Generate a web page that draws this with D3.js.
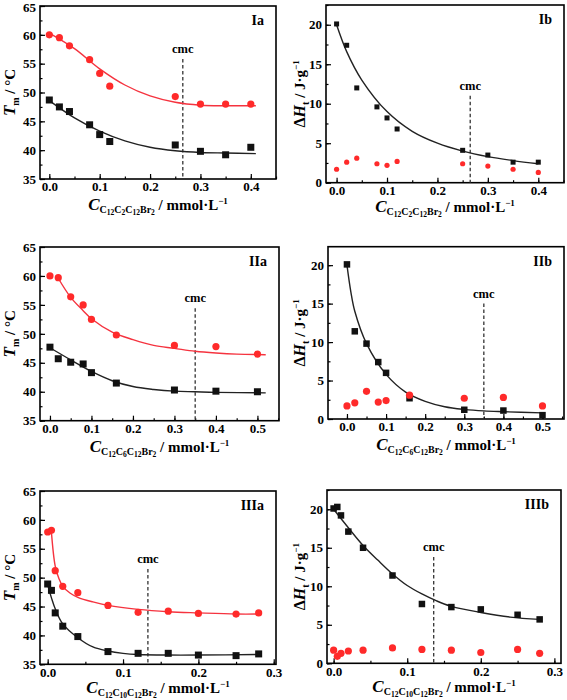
<!DOCTYPE html>
<html><head><meta charset="utf-8">
<script src="https://cdn.jsdelivr.net/npm/d3@7"></script>
<style>body{margin:0;background:#fff}svg{display:block}text{font-family:"Liberation Serif","Times New Roman",serif;font-weight:bold}</style>
</head><body><svg id="c" width="567" height="700"></svg>
<script>
// ---- data ----
const Ia_x = [0,0.02,0.04,0.08,0.1,0.12,0.25,0.3,0.35,0.4];
const Ia_red = [60,59.5,58.1,55.7,53.3,51.1,49.3,48,48,48];
const Ia_black = [48.7,47.5,46.7,44.4,42.7,41.5,40.9,39.8,39.2,40.5];
const Ia_fitX = [0,0.05,0.1,0.15,0.2,0.25,0.3,0.35,0.41];
const Ia_redFit = [60.3,57.6,54.1,51.3,49.4,48.3,47.8,47.7,47.7];
const Ia_blackFit = [48.6,45.6,43.3,41.6,40.5,39.9,39.6,39.5,39.4];
const Ia_cmc = 0.265;

const Ib_x = [0,0.02,0.04,0.08,0.1,0.12,0.25,0.3,0.35,0.4];
const Ib_black = [20.1,17.4,12.0,9.6,8.2,6.8,4.1,3.5,2.6,2.6];
const Ib_red = [1.7,2.6,3.1,2.4,2.2,2.7,2.4,2.1,1.7,1.3];
const Ib_fitX = [0,0.02,0.05,0.1,0.15,0.2,0.25,0.3,0.35,0.4];
const Ib_blackFit = [20.0,16.6,13.0,9.0,6.5,5.0,4.0,3.3,2.8,2.4];
const Ib_cmc = 0.265;

const IIa_x = [0,0.02,0.05,0.08,0.1,0.16,0.3,0.4,0.5];
const IIa_red = [60,59.7,56.4,55.0,52.5,49.8,48.0,47.8,46.5];
const IIa_black = [47.7,45.7,45.1,44.8,43.3,41.5,40.3,40.1,40.0];
const IIa_redFitX = [0.02,0.05,0.08,0.1,0.15,0.2,0.25,0.3,0.35,0.4,0.45,0.52];
const IIa_redFit = [59.6,56.3,54.0,52.6,50.3,49.0,48.0,47.5,47.0,46.7,46.5,46.4];
const IIa_blackFitX = [0,0.05,0.1,0.15,0.2,0.25,0.3,0.35,0.4,0.52];
const IIa_blackFit = [47.6,45.5,43.5,41.9,40.9,40.4,40.1,40.0,39.9,39.8];
const IIa_cmc = 0.35;

const IIb_x = [0,0.02,0.05,0.08,0.1,0.16,0.3,0.4,0.5];
const IIb_black = [20.1,11.4,9.8,7.4,6.0,2.7,1.2,1.1,0.5];
const IIb_red = [1.7,2.1,3.6,2.2,2.4,3.1,2.7,2.8,1.7];
const IIb_fitX = [0,0.01,0.02,0.05,0.1,0.15,0.2,0.25,0.3,0.35,0.4,0.5];
const IIb_blackFit = [20.0,16.5,14.0,9.8,5.8,3.5,2.3,1.6,1.25,1.05,0.95,0.8];
const IIb_cmc = 0.35;

const IIIa_x = [0,0.005,0.01,0.02,0.04,0.08,0.12,0.16,0.2,0.25,0.28];
const IIIa_red = [57.9,58.2,51.2,48.5,47.4,45.2,44.0,44.2,43.8,43.7,43.9];
const IIIa_black = [48.9,47.8,43.9,41.6,39.8,37.2,36.9,36.9,36.6,36.5,36.8];
const IIIa_redFitX = [0.005,0.01,0.015,0.02,0.03,0.04,0.06,0.08,0.12,0.16,0.2,0.25,0.28];
const IIIa_redFit = [57.8,52.0,49.8,48.5,47.3,46.6,45.8,45.2,44.5,44.1,43.9,43.7,43.7];
const IIIa_blackFitX = [0,0.005,0.01,0.02,0.04,0.06,0.08,0.1,0.12,0.16,0.2,0.28];
const IIIa_blackFit = [48.8,46.5,44.6,42.0,39.6,38.0,37.3,36.9,36.7,36.6,36.6,36.7];
const IIIa_cmc = 0.133;

const IIIb_x = [0,0.005,0.01,0.02,0.04,0.08,0.12,0.16,0.2,0.25,0.28];
const IIIb_black = [20.1,20.3,19.2,17.1,15.0,11.4,7.7,7.3,7.0,6.3,5.7];
const IIIb_red = [1.7,0.9,1.3,1.6,1.7,2.0,1.8,1.7,1.4,1.8,1.3];
const IIIb_fitX = [0,0.02,0.04,0.06,0.08,0.1,0.12,0.14,0.16,0.2,0.24,0.28];
const IIIb_blackFit = [20.0,17.6,15.3,13.4,11.6,10.1,9.0,8.1,7.4,6.6,6.0,5.7];
const IIIb_cmc = 0.136;

const tmTicks = [35,40,45,50,55,60,65];
const dhTicks = [0,5,10,15,20];
const xTicks04 = [0,0.1,0.2,0.3,0.4];
const xTicks05 = [0,0.1,0.2,0.3,0.4,0.5];
const xTicks03 = [0,0.1,0.2,0.3];

// ---- layout ----
const RED = "#ff2a2a", REDLINE = "#f5333f", BLK = "#111";
const panels = [
 {name:"Ia", L:40,R:276,T:6,B:179, xd:[-0.0185,0.45], yd:[35,65], yt:tmTicks, ymin:2.5, xt:xTicks04, xmin:0.05,
  kind:"T", sub:["12","2","12"], x:Ia_x, red:Ia_red, black:Ia_black, redFit:[Ia_fitX,Ia_redFit], blackFit:[Ia_fitX,Ia_blackFit],
  cmc:Ia_cmc, cmcTop:55.8, r:3.6, s:7, xlabY:210, ytX:15},
 {name:"Ib", L:326,R:564,T:5,B:182.7, xd:[-0.021,0.451], yd:[0,22.5], yt:dhTicks, ymin:2.5, xt:xTicks04, xmin:0.05,
  kind:"H", sub:["12","2","12"], x:Ib_x, red:Ib_red, black:Ib_black, redFit:null, blackFit:[Ib_fitX,Ib_blackFit],
  cmc:Ib_cmc, cmcTop:11.0, r:2.6, s:5, xlabY:212, ytX:305},
 {name:"IIa", L:40,R:279,T:247,B:420.7, xd:[-0.024,0.552], yd:[35,65], yt:tmTicks, ymin:2.5, xt:xTicks05, xmin:0.05,
  kind:"T", sub:["12","6","12"], x:IIa_x, red:IIa_red, black:IIa_black, redFit:[IIa_redFitX,IIa_redFit], blackFit:[IIa_blackFitX,IIa_blackFit],
  cmc:IIa_cmc, cmcTop:54.4, r:3.6, s:7, xlabY:452, ytX:15},
 {name:"IIb", L:328,R:564,T:246.7,B:419, xd:[-0.0485,0.555], yd:[0,22.4], yt:dhTicks, ymin:2.5, xt:xTicks05, xmin:0.05,
  kind:"H", sub:["12","6","12"], x:IIb_x, red:IIb_red, black:IIb_black, redFit:null, blackFit:[IIb_fitX,IIb_blackFit],
  cmc:IIb_cmc, cmcTop:15.0, r:3.6, s:6.5, xlabY:450, ytX:305},
 {name:"IIIa", L:40,R:276,T:491,B:664.3, xd:[-0.0102,0.303], yd:[35,65], yt:tmTicks, ymin:2.5, xt:xTicks03, xmin:0.05,
  kind:"T", sub:["12","10","12"], x:IIIa_x, red:IIIa_red, black:IIIa_black, redFit:[IIIa_redFitX,IIIa_redFit], blackFit:[IIIa_blackFitX,IIIa_blackFit],
  cmc:IIIa_cmc, cmcTop:51.5, r:3.6, s:7, xlabY:693, ytX:15},
 {name:"IIIb", L:327,R:561,T:490,B:663.3, xd:[-0.009,0.309], yd:[0,22.5], yt:dhTicks, ymin:2.5, xt:xTicks03, xmin:0.05,
  kind:"H", sub:["12","10","12"], x:IIIb_x, red:IIIb_red, black:IIIb_black, redFit:null, blackFit:[IIIb_fitX,IIIb_blackFit],
  cmc:IIIb_cmc, cmcTop:13.8, r:3.6, s:6.5, xlabY:692, ytX:305}
];

const svg = d3.select("#c");
const fmtX = d3.format(".1f");

panels.forEach(p => {
  const x = d3.scaleLinear().domain(p.xd).range([p.L,p.R]);
  const y = d3.scaleLinear().domain(p.yd).range([p.B,p.T]);
  const g = svg.append("g");

  const minorY = d3.range(p.yd[0], p.yd[1]+1e-9, p.ymin);
  const minorX = d3.range(0, p.xd[1]+1e-9, p.xmin);
  g.append("g").attr("transform",`translate(${p.L},0)`).call(d3.axisLeft(y).tickValues(minorY).tickSize(-2.5).tickFormat(""));
  g.append("g").attr("transform",`translate(0,${p.B})`).call(d3.axisBottom(x).tickValues(minorX).tickSize(-2.5).tickFormat(""));
  const yAxis = d3.axisLeft(y).tickValues(p.yt).tickSize(-5).tickPadding(4).tickFormat(d3.format("d"));
  const xAxis = d3.axisBottom(x).tickValues(p.xt).tickSize(-5).tickPadding(3).tickFormat(fmtX);
  g.append("g").attr("class","ya").attr("transform",`translate(${p.L},0)`).call(yAxis);
  g.append("g").attr("class","xa").attr("transform",`translate(0,${p.B})`).call(xAxis);
  g.selectAll(".domain").remove();
  g.selectAll(".tick line").attr("stroke","#000").attr("stroke-width",1.2);
  g.selectAll(".tick text").attr("fill","#000").style("font-size","13px").style("font-family","Liberation Serif").style("font-weight","bold");
  // keep the topmost y label inside the picture
  g.selectAll(".ya .tick text").filter(d => y(d) < 12).attr("dy","0.45em");

  g.append("rect").attr("x",p.L).attr("y",p.T).attr("width",p.R-p.L).attr("height",p.B-p.T)
    .attr("fill","none").attr("stroke","#000").attr("stroke-width",1.6);

  g.append("line").attr("x1",x(p.cmc)).attr("x2",x(p.cmc)).attr("y1",y(p.cmcTop)).attr("y2",p.B)
    .attr("stroke","#333").attr("stroke-width",1.3).attr("stroke-dasharray","3.5,2.5");
  g.append("text").attr("x",x(p.cmc)).attr("y",y(p.cmcTop)-6).attr("text-anchor","middle")
    .style("font-size","12.5px").text("cmc");

  const line = d3.line().x(d=>x(d[0])).y(d=>y(d[1])).curve(d3.curveCatmullRom.alpha(0.5));
  if (p.redFit) g.append("path").attr("d", line(d3.zip(p.redFit[0],p.redFit[1])))
    .attr("fill","none").attr("stroke",REDLINE).attr("stroke-width",1.4);
  if (p.blackFit) g.append("path").attr("d", line(d3.zip(p.blackFit[0],p.blackFit[1])))
    .attr("fill","none").attr("stroke","#222").attr("stroke-width",1.4);

  const blackPts = d3.zip(p.x,p.black), redPts = d3.zip(p.x,p.red);
  g.selectAll(".sq").data(blackPts).enter().append("rect")
    .attr("x",d=>x(d[0])-p.s/2).attr("y",d=>y(d[1])-p.s/2).attr("width",p.s).attr("height",p.s).attr("fill",BLK);
  g.selectAll(".ci").data(redPts).enter().append("circle")
    .attr("cx",d=>x(d[0])).attr("cy",d=>y(d[1])).attr("r",p.r).attr("fill",RED);

  g.append("text").attr("x",p.R-12).attr("y",p.T+19).attr("text-anchor","end").style("font-size","14px").text(p.name);

  const xl = g.append("text").attr("x",(p.L+p.R)/2).attr("y",p.xlabY).attr("text-anchor","middle").style("font-size","15px");
  xl.append("tspan").style("font-style","italic").style("font-size","17px").text("C");
  xl.append("tspan").attr("dy",3).style("font-size","10px").text("C");
  xl.append("tspan").attr("dy",1.5).style("font-size","7.5px").text(p.sub[0]);
  xl.append("tspan").attr("dy",-1.5).style("font-size","10px").text("C");
  xl.append("tspan").attr("dy",1.5).style("font-size","7.5px").text(p.sub[1]);
  xl.append("tspan").attr("dy",-1.5).style("font-size","10px").text("C");
  xl.append("tspan").attr("dy",1.5).style("font-size","7.5px").text(p.sub[2]);
  xl.append("tspan").attr("dy",-1.5).style("font-size","10px").text("Br");
  xl.append("tspan").attr("dy",1.5).style("font-size","7.5px").text("2");
  xl.append("tspan").attr("dy",-4.5).style("font-size","15px").text(" / mmol·L");
  xl.append("tspan").attr("dy",-6).style("font-size","9px").text("−1");

  const cy = (p.T+p.B)/2;
  const yl = g.append("text").attr("transform",`translate(${p.ytX},${cy}) rotate(-90)`).attr("text-anchor","middle").style("font-size","15px");
  if (p.kind==="T") {
    yl.append("tspan").style("font-style","italic").style("font-size","17px").text("T");
    yl.append("tspan").attr("dy",4).style("font-size","10px").text("m");
    yl.append("tspan").attr("dy",-4).text(" / °C");
  } else {
    yl.append("tspan").style("font-size","16px").text("Δ");
    yl.append("tspan").style("font-style","italic").style("font-size","16px").text("H");
    yl.append("tspan").attr("dy",4).style("font-size","10px").text("t");
    yl.append("tspan").attr("dy",-4).text(" / J·g");
    yl.append("tspan").attr("dy",-6).style("font-size","9px").text("−1");
  }
});
</script></body></html>
